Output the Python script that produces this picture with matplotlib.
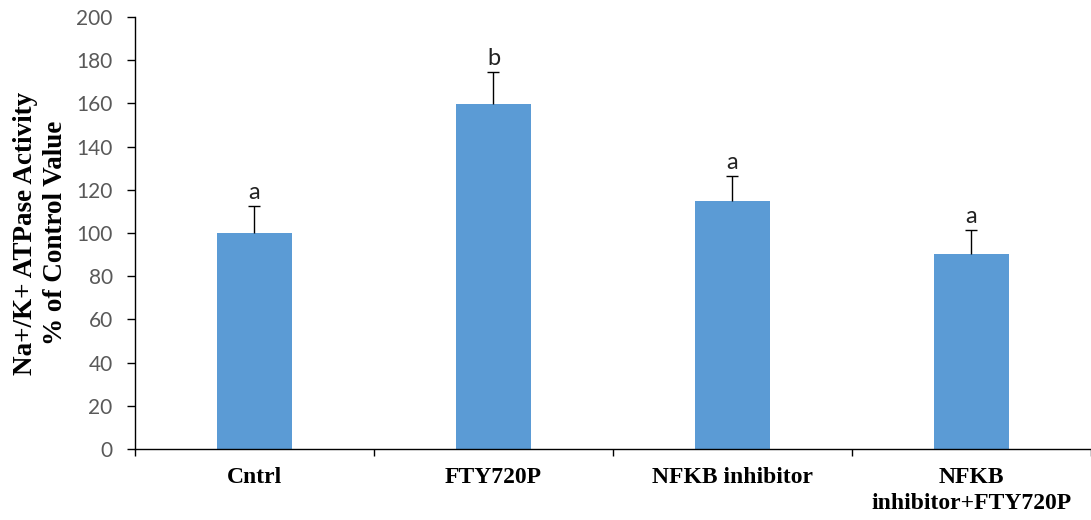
import matplotlib.pyplot as plt
import numpy as np

categories = ['Cntrl', 'FTY720P', 'NFKB inhibitor', 'NFKB\ninhibitor+FTY720P']
values = [100, 159.5, 115, 90.5]
errors = [12.5, 15, 11.5, 11]
letters = ['a', 'b', 'a', 'a']

fig = plt.figure(figsize=(10.91, 5.2), dpi=100)
ax = fig.add_axes([0.1237, 0.1365, 0.8763, 0.8308])

x = np.arange(len(categories))
ax.bar(x, values, width=0.31, color='#5B9BD5', zorder=2)
eb = ax.errorbar(x, values, yerr=[np.zeros(len(errors)), errors], fmt='none',
                 ecolor='black', elinewidth=1, capsize=4.5, capthick=1, zorder=3)
# hide the caps sitting on the bar tops
for cap in eb[1]:
    if np.allclose(cap.get_ydata(), values):
        cap.set_visible(False)

for xi, v, e, t in zip(x, values, errors, letters):
    ax.text(xi, v + e + 1.5, t, ha='center', va='bottom', fontsize=17,
            color='#222222', family='Lato')

ax.set_ylim(0, 200)
ax.set_xlim(-0.5, 3.48)
ax.set_yticks(np.arange(0, 201, 20))
ax.tick_params(axis='y', direction='out', length=6, width=1, labelsize=15,
               labelcolor='#595959', pad=10)
for lab in ax.get_yticklabels():
    lab.set_family('Lato')

ax.set_xticks(x)
ax.set_xticklabels(categories, family='Liberation Serif', fontweight='bold',
                   fontsize=17, linespacing=1.3)
ax.tick_params(axis='x', which='major', length=0, pad=13)
ax.set_xticks(np.arange(-0.5, 3.6, 1.0), minor=True)
ax.tick_params(axis='x', which='minor', direction='out', length=5, width=1)

for s in ['top', 'right']:
    ax.spines[s].set_visible(False)
ax.spines['left'].set_linewidth(1)
ax.spines['bottom'].set_linewidth(1)

ax.set_ylabel('Na+/K+ ATPase Activity\n% of Control Value', family='Liberation Serif',
              fontweight='bold', fontsize=19.5, linespacing=1.25, labelpad=6)

fig.savefig('out.png', dpi=100)
